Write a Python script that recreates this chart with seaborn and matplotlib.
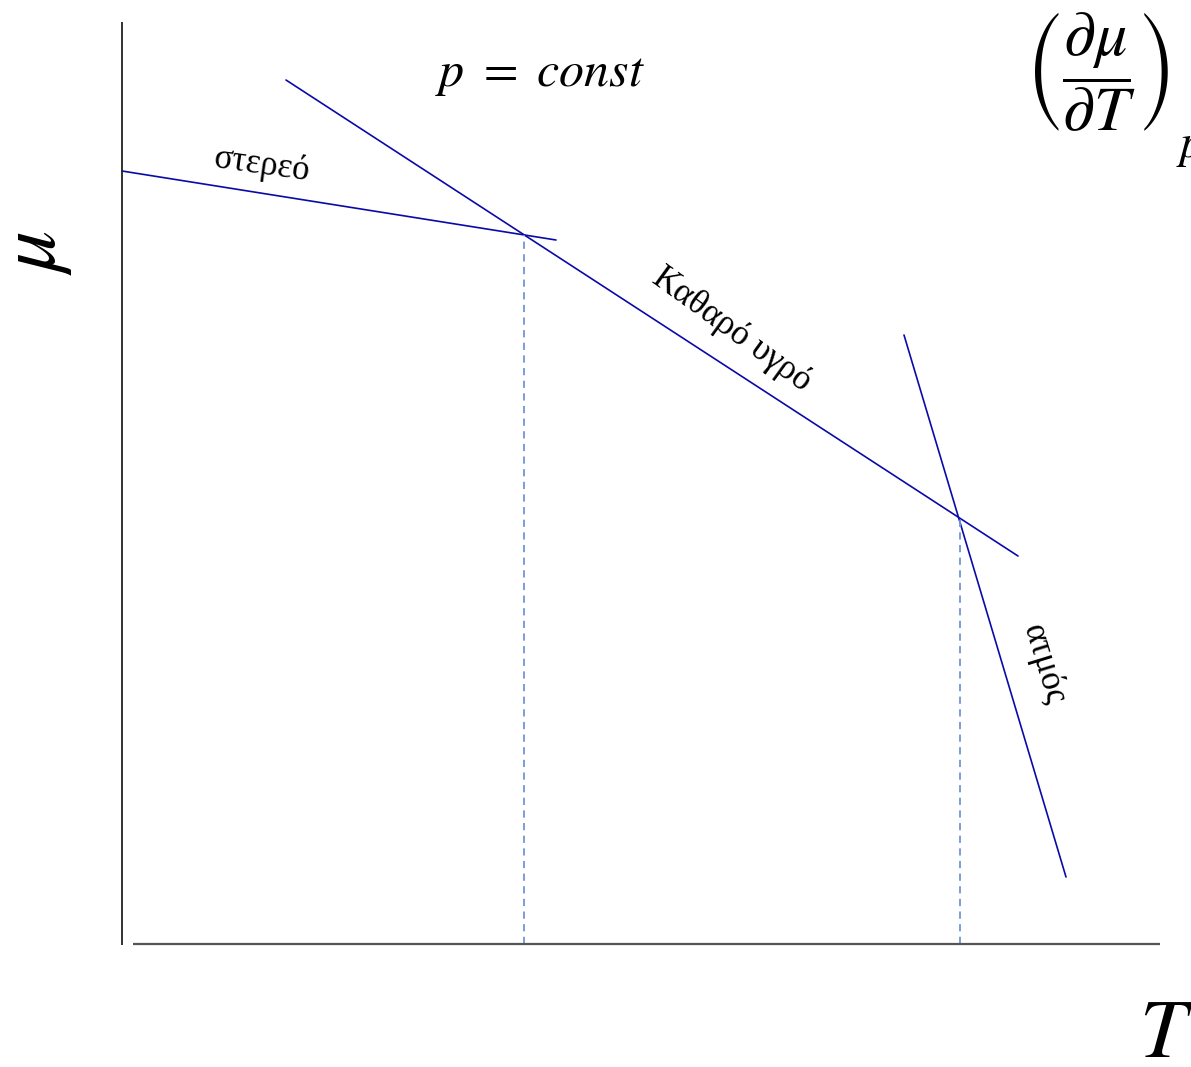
import matplotlib
matplotlib.use("Agg")
import matplotlib.pyplot as plt
import seaborn as sns
import pandas as pd

# Chemical potential branches at constant pressure (schematic units)
solid_T = [0, 434]
solid_mu = [773, 704]
liquid_T = [164, 896]
liquid_mu = [864, 388]
vapour_T = [782, 944]
vapour_mu = [609, 67]

# Transition temperatures (melting, boiling) and their chemical potentials
transition_T = [402, 838]
transition_mu = [709, 427]

branch_labels = ["στερεό", "Καθαρό υγρό", "ατμός"]

sns.set_style("white")
plt.rcParams["font.family"] = ["Liberation Serif", "DejaVu Serif"]
plt.rcParams["mathtext.fontset"] = "stix"
plt.rcParams["text.color"] = "black"

fig = plt.figure(figsize=(11.91, 10.67), dpi=100)
ax = fig.add_axes([0, 0, 1, 1])
ax.set_xlim(-122, 1069)
ax.set_ylim(-123, 944)
ax.axis("off")

line_color = "#0a0aa8"
for T, mu in [(solid_T, solid_mu), (liquid_T, liquid_mu), (vapour_T, vapour_mu)]:
    df = pd.DataFrame({"T": T, "mu": mu})
    sns.lineplot(data=df, x="T", y="mu", ax=ax, color=line_color, lw=1.2,
                 sort=False, estimator=None)

# Dashed drop lines at the transition temperatures
for T0, mu0 in zip(transition_T, transition_mu):
    df = pd.DataFrame({"T": [T0, T0], "mu": [0, mu0]})
    sns.lineplot(data=df, x="T", y="mu", ax=ax, color="#7096d8", lw=1.3,
                 linestyle=(0, (4, 3)), sort=False, estimator=None)

# Axes drawn as plain lines
ax.plot([0, 0], [-1, 922], color="#222222", lw=1.3, solid_capstyle="butt")
ax.plot([11, 1038], [0, 0], color="#555555", lw=1.6, solid_capstyle="butt")

# Branch labels
ax.text(140, 779, branch_labels[0], fontsize=25, rotation=-8,
        ha="center", va="center")
ax.text(610, 614, branch_labels[1], fontsize=25, rotation=-36,
        ha="center", va="center")
ax.text(921, 279, branch_labels[2], fontsize=25, rotation=-73,
        ha="center", va="center")

# Axis symbols and annotations
ax.text(-86, 692, r"$\mu$", fontsize=60, rotation=90, ha="center", va="center")
ax.text(1044, -93, r"$T$", fontsize=60, ha="center", va="center")
ax.text(418, 869, r"$p\ =\ const$", fontsize=36, ha="center", va="center")
ax.text(903, 872, r"$\left(\dfrac{\partial\mu}{\partial T}\right)$",
        fontsize=46, ha="left", va="center")
ax.text(1054, 796, r"$p$", fontsize=34, ha="left", va="center")

fig.savefig("out.png", dpi=100)
